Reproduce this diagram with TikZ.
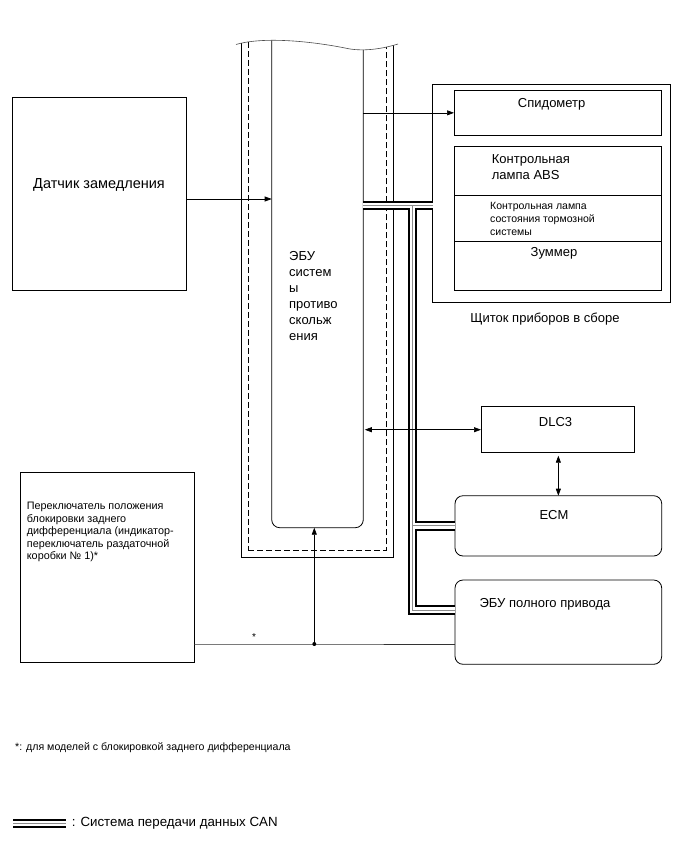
\documentclass[tikz,border=0pt]{standalone}
\usepackage{fontspec}
\setmainfont{Liberation Sans}
\usetikzlibrary{arrows.meta,calc,positioning}

\begin{document}
\begin{tikzpicture}[x=1pt,y=-1pt,
  box/.style={draw,line width=.8pt,inner sep=0pt,outer sep=0pt},
  rbox/.style={box,rounded corners=8pt},
  lbl/.style={font=\fontsize{13}{16}\selectfont,inner sep=0pt,align=left},
  small/.style={font=\fontsize{10.8}{12.6}\selectfont,inner sep=0pt,align=left},
  sig/.style={line width=.7pt},
  arr/.style={sig,-{Triangle[length=7pt,width=5pt]}},
  biarr/.style={sig,{Triangle[length=7pt,width=5pt]}-{Triangle[length=7pt,width=5pt]}},
  can/.style={line width=9.6pt,postaction={draw=white,line width=5.6pt},postaction={draw=black!45,line width=1pt}}]
\fill[white] (0,0) rectangle (690,854);
\useasboundingbox (0,0) rectangle (690,854);

% ECU column, open at the top
\begin{scope}
\clip (236,44.5) .. controls (265,36) and (315,42) .. (345,48) .. controls (362,52) and (382,49) .. (398,44) -- (398,600) -- (236,600) -- cycle;
\node[box,minimum width=151.8pt,minimum height=537.7pt,anchor=south] (ecuouter) at (317.4,557.7) {};
\node[box,dash pattern=on 6pt off 3pt,minimum width=137.7pt,minimum height=530.7pt,anchor=south] (ecudash) at (317.2,550.7) {};
\node[rbox,minimum width=91.6pt,minimum height=507.7pt,anchor=south] (ecu) at (317.5,527.7) {};
\end{scope}
\draw[line width=.6pt,black!70] (236,44.5) .. controls (265,36) and (315,42) .. (345,48) .. controls (362,52) and (382,49) .. (398,44);
\node[lbl,anchor=north west] (ecutext) at (289,251) {ЭБУ\\систем\\ы\\противо\\скольж\\ения};

% sensors and switches
\node[box,minimum width=174pt,minimum height=193pt,anchor=north west] (decel) at (12,97) {};
\node[lbl,font=\fontsize{14.5}{16}\selectfont] (deceltext) at (99,185) {Датчик замедления};
\node[box,minimum width=174pt,minimum height=190.4pt,anchor=north west] (lock) at (20,472.3) {};
\node[small,anchor=west] (locktext) at (26.7,532) {Переключатель положения\\блокировки заднего\\дифференциала (индикатор-\\переключатель раздаточной\\коробки № 1)*};

% combination meter
\node[box,minimum width=238pt,minimum height=218.7pt,anchor=north west] (cluster) at (432.7,84) {};
\node[lbl] (clustertext) at (545,319) {Щиток приборов в сборе};
\node[box,minimum width=207pt,minimum height=44.3pt,anchor=north west] (speedo) at (454,90.7) {};
\node[lbl] (speedotext) at (551.7,104) {Спидометр};
\node[box,minimum width=207pt,minimum height=49.7pt,anchor=north west] (abs) at (454,146) {};
\node[lbl,anchor=west] (abstext) at (491.7,166.8) {Контрольная\\лампа ABS};
\node[box,minimum width=207pt,minimum height=45.3pt,anchor=north west] (brake) at (454,195.7) {};
\node[small,font=\fontsize{10.5}{12.6}\selectfont,anchor=west] (braketext) at (490,219) {Контрольная лампа\\состояния тормозной\\системы};
\node[box,minimum width=207pt,minimum height=49pt,anchor=north west] (buzzer) at (454,241) {};
\node[lbl] (buzzertext) at (554,253.3) {Зуммер};

% other ECUs
\node[box,minimum width=153pt,minimum height=46pt,anchor=north west] (dlc) at (481,406.7) {};
\node[lbl] (dlctext) at (555.5,421.7) {DLC3};
\node[rbox,minimum width=206.7pt,minimum height=60.3pt,anchor=north west] (ecm) at (455,495.7) {};
\node[lbl] (ecmtext) at (554,515) {ECM};
\node[rbox,minimum width=206.7pt,minimum height=84.3pt,anchor=north west] (awd) at (455,580) {};
\node[lbl] (awdtext) at (545,604) {ЭБУ полного привода};

% CAN bus
\coordinate (canT) at (412.5,205.5);
\coordinate (canB) at (412.5,610);
\draw[can] (canT -| ecu.east) -- (canT -| cluster.west)
  (canT) -- (canB) -- (canB -| awd.west)
  (canT |- ecm.west) -- (ecm.west);

% signal lines
\draw[arr] ($(decel.east)+(0,5.5)$) coordinate (d1) -- (d1 -| ecu.west);
\draw[arr] (speedo.west -| ecu.east) -- (speedo.west);
\draw[biarr] ([xshift=1.5pt]dlc.west -| ecu.east) -- (dlc.west);
\draw[biarr] ([yshift=-3pt]dlc.south -| ecm.north) -- (ecm.north);
\coordinate (jn) at (314.3,644);
\draw[sig,black!80] (lock.east |- jn) -- node[above=3pt,inner sep=0pt,text=black,font=\fontsize{10}{12}\selectfont] (star) {*} (jn) -- (jn -| awd.west);
\fill (jn) circle (2pt);
\draw[arr] (jn) -- (jn |- ecu.south);

% notes
\node[anchor=west,inner sep=0pt,font=\fontsize{10.6}{12}\selectfont] (note) at (15,748) {*: для моделей с блокировкой заднего дифференциала};
\coordinate (legA) at (13,823.5);
\draw[can] (legA) -- ++(53,0);
\node[lbl,font=\fontsize{13.3}{16}\selectfont,anchor=west] (legtext) at (71.7,823) {: Система передачи данных CAN};
\end{tikzpicture}
\end{document}
